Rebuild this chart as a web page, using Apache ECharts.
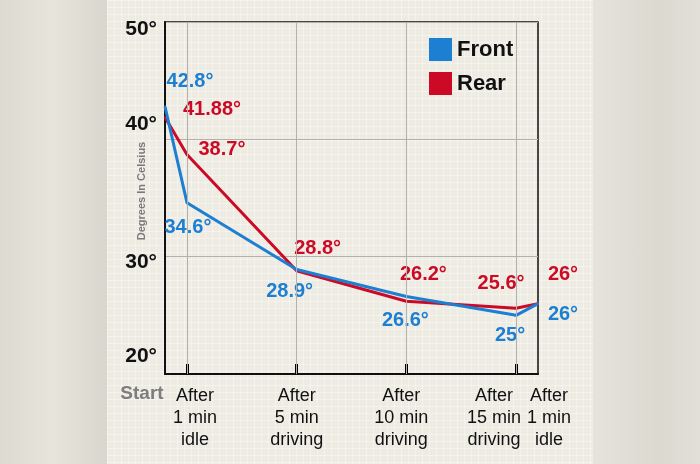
<!DOCTYPE html>
<html><head><meta charset="utf-8">
<script src="https://cdn.jsdelivr.net/npm/echarts@6/dist/echarts.min.js"></script>
<style>
html,body{margin:0;padding:0;width:700px;height:464px;overflow:hidden;}
body{background:#dcd9d1;position:relative;}
#panel{position:absolute;left:107px;top:0;width:486px;height:464px;background-color:#eeebe3;
background-image:linear-gradient(rgba(255,255,255,0.35) 1px,transparent 1px),linear-gradient(90deg,rgba(255,255,255,0.35) 1px,transparent 1px);
background-size:7px 7px;}
#right{position:absolute;left:593px;top:0;width:107px;height:464px;background:linear-gradient(90deg,#e6e3dc,#dcd9d1 60%,#e2dfd8);}
#left{position:absolute;left:0;top:0;width:107px;height:464px;background:linear-gradient(90deg,#dddad2,#e7e4dc 50%,#d9d6ce);}
#chart{position:absolute;left:0;top:0;width:700px;height:464px;}
</style></head>
<body><div id="left"></div><div id="panel"></div><div id="right"></div><div id="chart"></div>
<script>
// Data
var stageMinutes = [0, 1, 6, 11, 16, 17];
var stageLabels = ['Start', 'After\n1 min\nidle', 'After\n5 min\ndriving', 'After\n10 min\ndriving', 'After\n15 min\ndriving', 'After\n1 min\nidle'];
var frontValues = [42.8, 34.6, 28.9, 26.6, 25, 26];
var rearValues = [41.88, 38.7, 28.8, 26.2, 25.6, 26];
var frontLabels = ['42.8°', '34.6°', '28.9°', '26.6°', '25°', '26°'];
var rearLabels = ['41.88°', '38.7°', '28.8°', '26.2°', '25.6°', '26°'];
var yTicks = [20, 30, 40, 50];
var gridMinutes = [1, 6, 11, 16];
var edgeMinutes = [0, 17];

var FONT = "'Liberation Sans','Roboto',Arial,sans-serif";
var BLUE = '#1c7fd1', RED = '#cc0a26';

// label offsets (styling)
var frontOffsets = [[25,-25],[1,25],[-7,22],[-1,24],[-6,20],[25,11]];
var rearOffsets = [[47,-8],[35,-5],[21,-22],[17,-27],[-15,-25],[25,-29]];

function buildSeriesData(vals, labels, offsets, color) {
  return vals.map(function (v, i) {
    return {
      value: [stageMinutes[i], v],
      label: { show: true, formatter: labels[i], position: 'inside', offset: offsets[i],
        color: color, fontFamily: FONT, fontSize: 20, fontWeight: 'bold' }
    };
  });
}

var yShift = {50: 'p50', 40: 'p40', 30: 'p30', 20: 'p20'};
var xShift = ['s0', 's1', 's2', 's3', 's4', 's5'];
var xBase = {color: '#111', fontSize: 18, fontFamily: FONT, lineHeight: 22};
var xRich = {
  s0: Object.assign({}, xBase, {color: '#7d7d7d', fontWeight: 'bold', fontSize: 19, padding: [-4, 46, 0, 0]}),
  s1: Object.assign({}, xBase, {padding: [0, 0, 0, 16]}),
  s2: Object.assign({}, xBase, {padding: [0, 0, 0, 0]}),
  s3: Object.assign({}, xBase, {padding: [0, 10, 0, 0]}),
  s4: Object.assign({}, xBase, {padding: [0, 44, 0, 0]}),
  s5: Object.assign({}, xBase, {padding: [0, 0, 0, 22]})
};
var yBase = {color: '#111', fontWeight: 'bold', fontSize: 21, fontFamily: FONT};
var yRich = {
  p50: Object.assign({padding: [14, 0, 0, 0]}, yBase),
  p40: Object.assign({padding: [0, 0, 30, 0]}, yBase),
  p30: Object.assign({padding: [12, 0, 0, 0]}, yBase),
  p20: Object.assign({padding: [0, 0, 36, 0]}, yBase)
};
function xFormatter(val) {
  var i = stageMinutes.indexOf(val);
  if (i < 0) return '';
  return stageLabels[i].split('\n').map(function (s) { return '{' + xShift[i] + '|' + s + '}'; }).join('\n');
}

var chart = echarts.init(document.getElementById('chart'), null, {renderer: 'canvas'});
chart.setOption({
  backgroundColor: 'transparent',
  animation: false,
  grid: {left: 165, right: 162, top: 22, bottom: 90, show: true, borderColor: '#111', borderWidth: 1.5, backgroundColor: 'transparent'},
  legend: {
    data: ['Front', 'Rear'], orient: 'vertical', left: 429, top: 38, icon: 'rect', padding: 0,
    itemWidth: 23, itemHeight: 23, itemGap: 11,
    textStyle: {fontFamily: FONT, fontSize: 22, fontWeight: 'bold', color: '#111'}
  },
  xAxis: [{
    type: 'value', min: 0, max: 17,
    axisLine: {show: true, lineStyle: {color: '#111', width: 2}},
    axisTick: {show: true, inside: true, length: 10, lineStyle: {color: '#000', width: 3}, customValues: gridMinutes},
    splitLine: {show: false},
    axisLabel: {
      customValues: gridMinutes, margin: 11, verticalAlign: 'top',
      showMinLabel: true, showMaxLabel: true, hideOverlap: false,
      formatter: xFormatter, rich: xRich
    }
  }, {
    type: 'value', min: 0, max: 17, position: 'bottom', gridIndex: 0,
    axisLine: {show: false}, axisTick: {show: false}, splitLine: {show: false},
    axisLabel: {
      customValues: edgeMinutes, margin: 11, verticalAlign: 'top',
      showMinLabel: true, showMaxLabel: true, hideOverlap: false,
      formatter: xFormatter, rich: xRich
    }
  }],
  yAxis: {
    type: 'value', min: 20, max: 50, interval: 10,
    name: 'Degrees In Celsius', nameLocation: 'middle', nameGap: 18, nameRotate: 90, nameMoveOverlap: false,
    nameTextStyle: {color: '#7a7a7a', fontFamily: FONT, fontSize: 11, fontWeight: 'bold', padding: [0, 0, 0, 14]},
    axisLine: {show: true, lineStyle: {color: '#111', width: 2}},
    axisTick: {show: false},
    splitLine: {show: true, lineStyle: {color: '#b3b1ab', width: 1}},
    axisLabel: {
      margin: 8, showMinLabel: true, showMaxLabel: true,
      formatter: function (v) { return '{' + yShift[v] + '|' + v + '°}'; },
      rich: yRich
    }
  },
  series: [
    {
      type: 'line', name: '_grid', data: [], z: 1, silent: true,
      markLine: {silent: true, symbol: 'none', label: {show: false},
        lineStyle: {color: '#b3b1ab', width: 1, type: 'solid'},
        data: gridMinutes.map(function (m) { return {xAxis: m}; })}
    },
    {
      type: 'line', name: 'Rear', z: 3, clip: false, color: RED,
      symbol: 'circle', symbolSize: 2, itemStyle: {color: RED},
      lineStyle: {color: RED, width: 3},
      data: buildSeriesData(rearValues, rearLabels, rearOffsets, RED)
    },
    {
      type: 'line', name: 'Front', z: 4, clip: false, color: BLUE,
      symbol: 'circle', symbolSize: 2, itemStyle: {color: BLUE},
      lineStyle: {color: BLUE, width: 3},
      data: buildSeriesData(frontValues, frontLabels, frontOffsets, BLUE)
    }
  ]
});
</script></body></html>
